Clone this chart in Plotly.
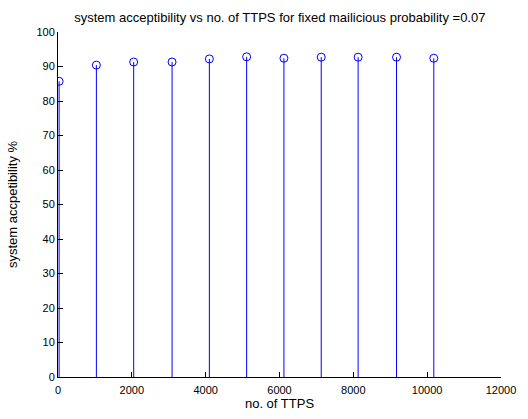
import plotly.graph_objects as go

ttps = [30, 1040, 2050, 3090, 4100, 5110, 6120, 7130, 8130, 9170, 10180]
acceptability = [85.7, 90.4, 91.3, 91.3, 92.2, 92.8, 92.4, 92.7, 92.7, 92.7, 92.4]
x_ticks = [0, 2000, 4000, 6000, 8000, 10000, 12000]
x_tick_text = ["0", "2000", "4000", "6000", "8000", "10000", "12000"]
y_ticks = [0, 10, 20, 30, 40, 50, 60, 70, 80, 90, 100]

stem_x, stem_y = [], []
for xv, yv in zip(ttps, acceptability):
    stem_x += [xv, xv, None]
    stem_y += [0, yv, None]

blue = "rgb(0,0,255)"
fig = go.Figure()
fig.add_trace(go.Scatter(x=stem_x, y=stem_y, mode="lines",
                         line=dict(color=blue, width=1), hoverinfo="skip",
                         showlegend=False))
fig.add_trace(go.Scatter(x=ttps, y=acceptability, mode="markers",
                         marker=dict(symbol="circle-open", size=8,
                                     color=blue, line=dict(width=1, color=blue)),
                         showlegend=False))

font = dict(family="Liberation Sans, Arial, sans-serif", size=11, color="black")
fig.update_layout(
    width=528, height=419,
    margin=dict(l=57, r=25, t=32, b=37),
    paper_bgcolor="white", plot_bgcolor="white",
    font=font,
    title=dict(text="system acceptibility vs no. of TTPS for fixed mailicious probability =0.07",
               x=0.53, xanchor="center", y=1 - 17 / 419, yanchor="middle",
               yref="container", font=dict(size=13)),
    xaxis=dict(range=[0, 12000], tickvals=x_ticks, ticktext=x_tick_text,
               ticks="inside", ticklen=5, ticklabelstandoff=3,
               tickcolor="black", showline=True, linecolor="black", linewidth=1,
               showgrid=False, zeroline=False, mirror=False,
               title=dict(text="no. of TTPS", standoff=2, font=dict(size=13))),
    yaxis=dict(range=[0, 100], tickvals=y_ticks, ticks="inside", ticklen=5,
               tickcolor="black", showline=True, linecolor="black", linewidth=1,
               showgrid=False, zeroline=False, mirror=False,
               title=dict(text="system accpetibility %", standoff=15, font=dict(size=13))),
)
fig.write_html("out.html")
